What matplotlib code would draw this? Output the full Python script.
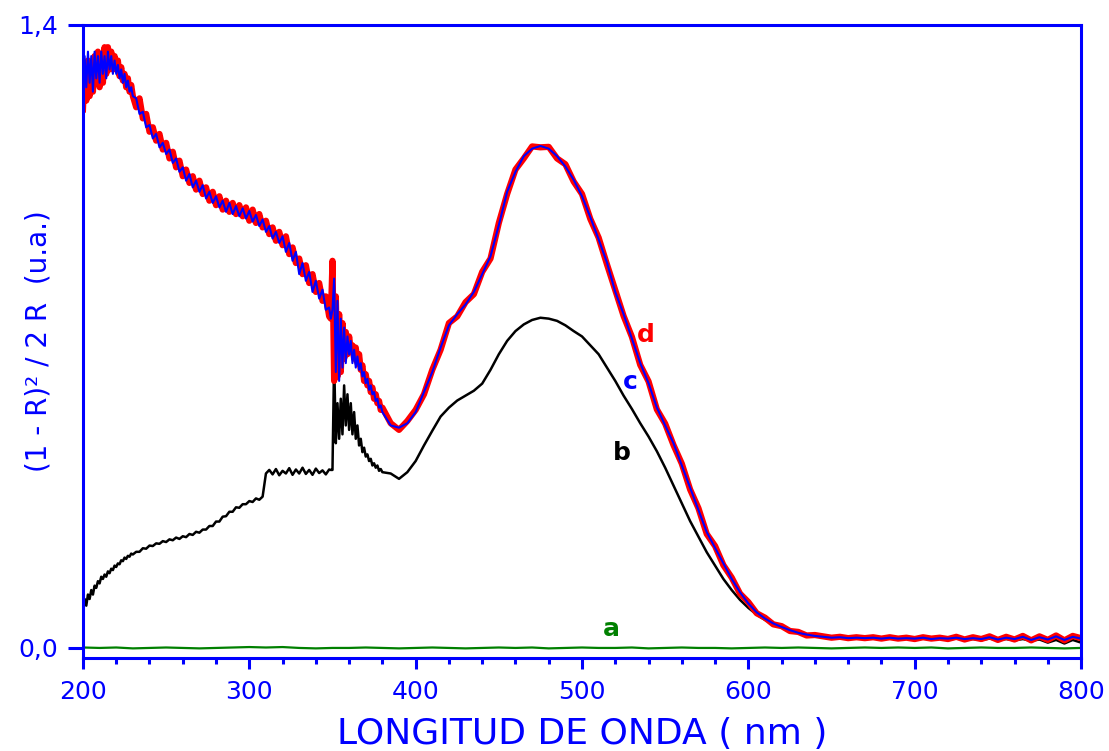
import numpy as np
import matplotlib
matplotlib.use("Agg")
from matplotlib import pyplot as plt
from matplotlib.ticker import MultipleLocator

plt.rcParams['font.family'] = ['DejaVu Sans']

# wavelength grids (nm) for the sampled pieces of the spectra
wl_a = np.arange(200, 231, 1)
wl_b = np.arange(232, 349, 2)
wl_c = np.arange(349, 381, 1)
wl_d = np.arange(385, 641, 5)
wl_e = np.arange(645, 801, 5)
wl = np.concatenate([wl_a, wl_b, wl_c, wl_d, wl_e])

# curve c (blue)
c_a = [1.24, 1.33, 1.26, 1.34, 1.27, 1.33, 1.25, 1.34, 1.28, 1.33,
       1.27, 1.34, 1.29, 1.33, 1.28, 1.34, 1.30, 1.33, 1.29, 1.32,
       1.29, 1.31, 1.28, 1.30, 1.27, 1.29, 1.26, 1.275, 1.25, 1.26, 1.24]
c_b = [1.235, 1.20, 1.205, 1.17, 1.175, 1.145, 1.155, 1.125, 1.135, 1.11,
       1.12, 1.09, 1.10, 1.07, 1.08, 1.05, 1.065, 1.035, 1.05, 1.025,
       1.04, 1.01, 1.025, 1.0, 1.015, 0.99, 1.005, 0.98, 1.0, 0.975,
       0.993, 0.97, 0.988, 0.965, 0.982, 0.958, 0.973, 0.948, 0.963, 0.935,
       0.948, 0.92, 0.935, 0.91, 0.925, 0.89, 0.91, 0.87, 0.89, 0.84,
       0.865, 0.825, 0.845, 0.80, 0.825, 0.785, 0.805, 0.76, 0.765]
c_c = [0.74, 0.76, 0.83, 0.62, 0.78, 0.60, 0.74, 0.63, 0.72, 0.64,
       0.70, 0.66, 0.69, 0.64, 0.67, 0.63, 0.655, 0.625, 0.64, 0.61,
       0.62, 0.595, 0.605, 0.58, 0.59, 0.57, 0.575, 0.555, 0.56, 0.54,
       0.545, 0.53]
c_d = [0.50, 0.495, 0.505, 0.53, 0.575, 0.62, 0.675, 0.725, 0.75, 0.772,
       0.80, 0.84, 0.88, 0.95, 1.025, 1.07, 1.105, 1.122, 1.128, 1.122,
       1.105, 1.082, 1.052, 1.015, 0.968, 0.918, 0.866, 0.80, 0.75, 0.695,
       0.64, 0.595, 0.54, 0.50, 0.46, 0.41, 0.36, 0.31, 0.26, 0.225,
       0.19, 0.155, 0.125, 0.10, 0.08, 0.066, 0.055, 0.047, 0.04, 0.034,
       0.03, 0.027]
c_e = [0.025, 0.023, 0.024, 0.022, 0.023, 0.022, 0.023, 0.021, 0.023, 0.021,
       0.022, 0.021, 0.023, 0.020, 0.022, 0.021, 0.023, 0.020, 0.022, 0.020,
       0.024, 0.019, 0.023, 0.020, 0.025, 0.018, 0.024, 0.019, 0.026, 0.018,
       0.025, 0.021]

# curve d (red)
d_a = [1.21, 1.30, 1.23, 1.32, 1.24, 1.31, 1.25, 1.33, 1.27, 1.34,
       1.26, 1.33, 1.27, 1.35, 1.29, 1.35, 1.30, 1.34, 1.30, 1.33,
       1.30, 1.32, 1.285, 1.305, 1.275, 1.29, 1.26, 1.28, 1.25, 1.265, 1.24]
d_b = [1.215, 1.235, 1.19, 1.20, 1.16, 1.17, 1.14, 1.155, 1.12, 1.135,
       1.10, 1.115, 1.08, 1.095, 1.06, 1.075, 1.045, 1.06, 1.03, 1.05,
       1.02, 1.035, 1.005, 1.025, 0.995, 1.015, 0.985, 1.005, 0.98, 1.0,
       0.975, 0.995, 0.97, 0.99, 0.96, 0.985, 0.955, 0.975, 0.945, 0.96,
       0.93, 0.945, 0.915, 0.935, 0.905, 0.925, 0.885, 0.90, 0.865, 0.875,
       0.84, 0.86, 0.82, 0.84, 0.80, 0.82, 0.78, 0.79, 0.745]
d_c = [0.74, 0.87, 0.60, 0.79, 0.61, 0.75, 0.62, 0.73, 0.65, 0.71,
       0.66, 0.70, 0.67, 0.68, 0.65, 0.675, 0.64, 0.66, 0.625, 0.635,
       0.60, 0.615, 0.59, 0.60, 0.575, 0.585, 0.56, 0.57, 0.55, 0.555,
       0.535, 0.54]
d_d = [0.505, 0.49, 0.51, 0.535, 0.57, 0.625, 0.67, 0.73, 0.745, 0.777,
       0.795, 0.845, 0.875, 0.955, 1.02, 1.075, 1.10, 1.127, 1.125, 1.126,
       1.10, 1.087, 1.048, 1.02, 0.964, 0.922, 0.862, 0.804, 0.746, 0.699,
       0.636, 0.599, 0.536, 0.504, 0.456, 0.414, 0.356, 0.314, 0.256, 0.229,
       0.186, 0.158, 0.122, 0.103, 0.078, 0.068, 0.053, 0.049, 0.038, 0.036,
       0.028, 0.029]
d_e = [0.026, 0.023, 0.025, 0.022, 0.024, 0.022, 0.024, 0.021, 0.024, 0.021,
       0.023, 0.020, 0.024, 0.021, 0.023, 0.020, 0.025, 0.019, 0.024, 0.020,
       0.026, 0.018, 0.025, 0.019, 0.027, 0.017, 0.026, 0.018, 0.028, 0.017,
       0.027, 0.022]

# curve b (black)
b_a = [0.08, 0.11, 0.095, 0.12, 0.11, 0.13, 0.12, 0.14, 0.135, 0.15,
       0.145, 0.16, 0.155, 0.165, 0.16, 0.172, 0.168, 0.178, 0.175, 0.185,
       0.182, 0.19, 0.188, 0.197, 0.195, 0.203, 0.20, 0.207, 0.205, 0.212, 0.21]
b_b = [0.216, 0.216, 0.224, 0.223, 0.230, 0.229, 0.235, 0.234, 0.240, 0.238,
       0.244, 0.242, 0.248, 0.245, 0.251, 0.249, 0.256, 0.254, 0.261, 0.259,
       0.266, 0.266, 0.274, 0.274, 0.284, 0.284, 0.295, 0.296, 0.306, 0.306,
       0.316, 0.315, 0.323, 0.323, 0.330, 0.328, 0.336, 0.333, 0.340, 0.392,
       0.400, 0.390, 0.402, 0.388, 0.398, 0.392, 0.404, 0.389, 0.401, 0.392,
       0.405, 0.391, 0.400, 0.389, 0.403, 0.393, 0.399, 0.390, 0.401]
b_c = [0.40, 0.40, 0.65, 0.46, 0.55, 0.47, 0.56, 0.48, 0.59, 0.50,
       0.57, 0.49, 0.55, 0.48, 0.53, 0.47, 0.50, 0.455, 0.47, 0.44,
       0.45, 0.43, 0.435, 0.42, 0.425, 0.41, 0.415, 0.405, 0.41, 0.398,
       0.402, 0.395]
b_d = [0.392, 0.38, 0.395, 0.42, 0.455, 0.488, 0.52, 0.54, 0.556, 0.567,
       0.578, 0.594, 0.625, 0.66, 0.69, 0.712, 0.727, 0.737, 0.742, 0.74,
       0.735, 0.725, 0.712, 0.70, 0.68, 0.66, 0.63, 0.60, 0.567, 0.537,
       0.505, 0.475, 0.442, 0.405, 0.365, 0.325, 0.285, 0.25, 0.215, 0.185,
       0.155, 0.13, 0.108, 0.09, 0.075, 0.063, 0.054, 0.046, 0.04, 0.034,
       0.03, 0.027]
b_e = [0.025, 0.023, 0.023, 0.022, 0.022, 0.021, 0.022, 0.021, 0.022, 0.020,
       0.021, 0.020, 0.021, 0.020, 0.021, 0.019, 0.021, 0.019, 0.020, 0.018,
       0.021, 0.018, 0.020, 0.017, 0.020, 0.016, 0.019, 0.012, 0.018, 0.010,
       0.018, 0.012]

curve_b = np.concatenate([b_a, b_b, b_c, b_d, b_e])
curve_c = np.concatenate([c_a, c_b, c_c, c_d, c_e])
curve_d = np.concatenate([d_a, d_b, d_c, d_d, d_e])

# curve a (green), flat at zero
wl_green = np.arange(200, 801, 10)
curve_a = [0.001, 0.000, 0.001, -0.001, 0.000, 0.001, 0.000, -0.001, 0.000, 0.001,
           0.002, 0.001, 0.002, 0.000, -0.001, 0.000, 0.000, 0.001, 0.000, -0.001,
           0.000, 0.001, 0.000, -0.001, 0.000, 0.001, 0.000, 0.001, -0.001, 0.000,
           0.001, 0.000, 0.000, 0.001, -0.001, 0.000, 0.001, 0.000, 0.000, -0.001,
           0.000, 0.001, 0.000, 0.001, 0.000, -0.001, 0.000, 0.001, 0.000, 0.001,
           0.000, 0.001, -0.001, 0.000, 0.001, 0.000, 0.000, 0.001, 0.000, -0.001,
           0.000]

blue = '#0000ff'
green = '#008000'

fig = plt.figure(figsize=(11.09, 7.51), dpi=100)
ax = fig.add_axes([0.0748, 0.1239, 0.900, 0.8429])

ax.plot(wl_green, curve_a, color=green, lw=1.6)
ax.plot(wl, curve_b, color='black', lw=1.8)
ax.plot(wl, curve_d, color='#ff0000', lw=4.5)
ax.plot(wl, curve_c, color=blue, lw=1.5)

ax.text(533, 0.688, 'd', color='#ff0000', fontsize=18, fontweight='bold', ha='left', va='baseline')
ax.text(524.5, 0.582, 'c', color=blue, fontsize=18, fontweight='bold', ha='left', va='baseline')
ax.text(518.5, 0.4225, 'b', color='black', fontsize=18, fontweight='bold', ha='left', va='baseline')
ax.text(512.5, 0.027, 'a', color=green, fontsize=18, fontweight='bold', ha='left', va='baseline')

ax.set_xlim(200, 800)
ax.set_ylim(-0.0225, 1.4)

for side in ['left', 'right', 'top', 'bottom']:
    ax.spines[side].set_color(blue)
    ax.spines[side].set_linewidth(2.2)

ax.set_xticks([200, 300, 400, 500, 600, 700, 800])
ax.xaxis.set_minor_locator(MultipleLocator(20))
ax.set_yticks([0.0, 1.4])
ax.set_yticklabels(['0,0', '1,4'])
ax.tick_params(axis='x', which='major', direction='out', length=8, width=2.2,
               color=blue, labelcolor=blue, labelsize=18, pad=8)
ax.tick_params(axis='x', which='minor', direction='out', length=4.5, width=2.2, color=blue)
ax.tick_params(axis='y', which='major', direction='out', length=11, width=2.2,
               color=blue, labelcolor=blue, labelsize=18, pad=7)

ax.set_xlabel('LONGITUD DE ONDA ( nm )', fontsize=26, color=blue)
ax.xaxis.set_label_coords(0.5, -0.093)
ax.set_ylabel('(1 - R)\u00b2 / 2 R  (u.a.)', fontsize=20, color=blue)
ax.yaxis.set_label_coords(-0.031, 0.5)

fig.savefig('out.png', dpi=100)
